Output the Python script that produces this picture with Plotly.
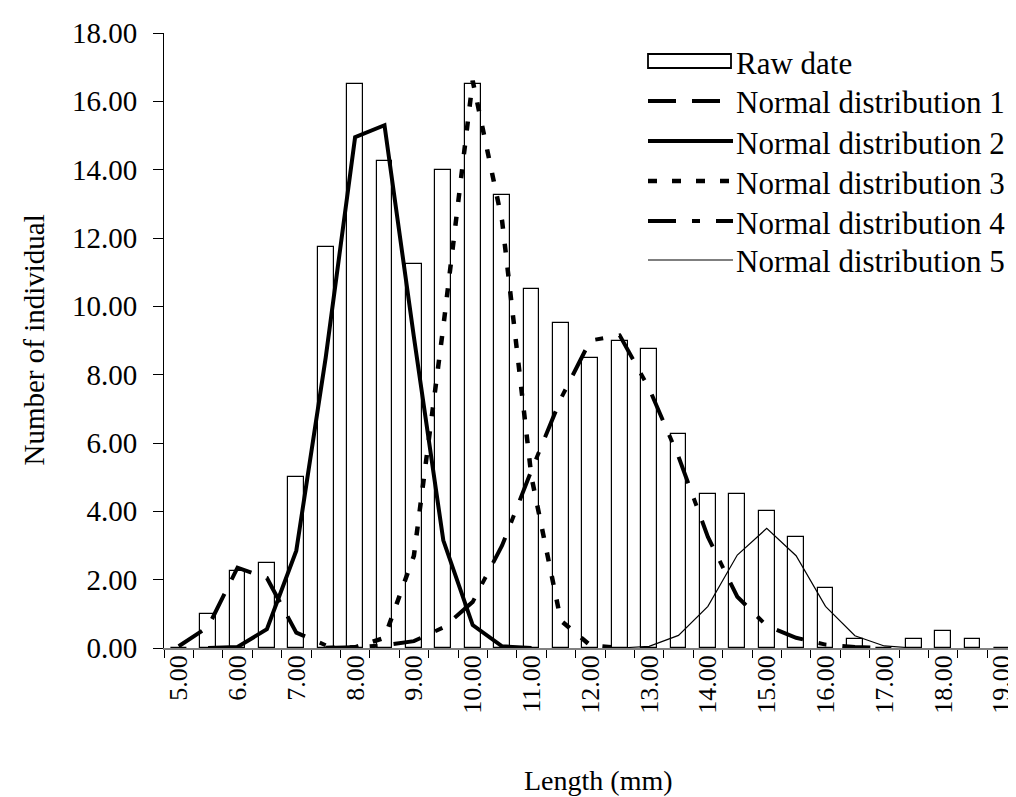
import plotly.graph_objects as go

# ---- data ----
lengths = [5.0, 5.5, 6.0, 6.5, 7.0, 7.5, 8.0, 8.5, 9.0, 9.5, 10.0, 10.5, 11.0, 11.5,
           12.0, 12.5, 13.0, 13.5, 14.0, 14.5, 15.0, 15.5, 16.0, 16.5, 17.0, 17.5,
           18.0, 18.5, 19.0]
tick_vals = [5, 6, 7, 8, 9, 10, 11, 12, 13, 14, 15, 16, 17, 18, 19]
tick_text = ["%.2f" % v for v in tick_vals]

raw_date = [0, 1.0, 2.25, 2.5, 5.0, 11.75, 16.5, 14.25, 11.25, 14.0, 16.5, 13.25, 10.5, 9.5,
            8.5, 9.0, 8.75, 6.25, 4.5, 4.5, 4.0, 3.25, 1.75, 0.25, 0, 0.25,
            0.5, 0.25, 0]

N = None
nd1 = [0.05, 0.62, 2.35, 2.05, 0.45, 0.08, N, N, N, N, N, N, N, N,
       N, N, N, N, N, N, N, N, N, N, N, N, N, N, N]
nd2 = [N, 0.0, 0.03, 0.55, 2.85, 8.5, 14.95, 15.3, 9.1, 3.15, 0.67, 0.05, 0.0, N,
       N, N, N, N, N, N, N, N, N, N, N, N, N, N, N]
nd3 = [N, N, N, N, N, 0.0, 0.02, 0.3, 2.7, 9.4, 16.6, 12.5, 5.0, 0.8,
       0.08, 0.0, N, N, N, N, N, N, N, N, N, N, N, N, N]
nd4 = [N, N, N, N, N, 0.0, 0.02, 0.08, 0.2, 0.6, 1.35, 3.0, 5.2, 7.3,
       9.0, 9.15, 7.6, 5.6, 3.25, 1.5, 0.65, 0.3, 0.1, 0.03, 0.0, N, N, N, N]
nd5 = [N, N, N, N, N, N, N, N, N, N, N, N, N, N,
       N, 0.0, 0.05, 0.37, 1.22, 2.72, 3.5, 2.7, 1.22, 0.36, 0.06, 0.0, N, N, N]

series_names = ["Raw date", "Normal distribution 1", "Normal distribution 2",
                "Normal distribution 3", "Normal distribution 4", "Normal distribution 5"]
x_title = "Length (mm)"
y_title = "Number of individual"

FONT = "Liberation Serif, Times New Roman, serif"

styles = [
    dict(width=4, dash="28px,16px"),
    dict(width=4, dash="solid"),
    dict(width=4.5, dash="9px,15px"),
    dict(width=4, dash="28px,16px,8px,16px"),
    dict(width=1.2, dash="solid"),
]
series = [nd1, nd2, nd3, nd4, nd5]

fig = go.Figure()
fig.add_trace(go.Bar(
    x=lengths, y=raw_date, width=0.27, name=series_names[0],
    marker=dict(color="white", line=dict(color="black", width=1.2)),
    showlegend=False,
))
for name, ys, st in zip(series_names[1:], series, styles):
    fig.add_trace(go.Scatter(
        x=lengths, y=ys, mode="lines", name=name, connectgaps=False,
        line=dict(color="black", width=st["width"], dash=st["dash"]),
        showlegend=False,
    ))

# plot-area geometry (pixels) used for the drawn legend and titles
L, R, T, B = 156, 1016, 25, 640
W, H = R - L, B - T
CAT_PX = 29.4  # pixels per 0.5 mm category

def px(x):
    return (x - L) / W

def py(y):
    return (B - y) / H

shapes = []
annotations = []
row_y = [53, 93, 133, 173, 213, 252]
x0, x1 = 640, 725
shapes.append(dict(type="rect", xref="paper", yref="paper",
                   x0=px(x0), x1=px(x1 - 2), y0=py(row_y[0] - 7), y1=py(row_y[0] + 7),
                   line=dict(color="black", width=1.8), fillcolor="white"))
for yy, st in zip(row_y[1:], styles):
    shapes.append(dict(type="line", xref="paper", yref="paper",
                       x0=px(x0), x1=px(x1), y0=py(yy), y1=py(yy),
                       line=dict(color="black", width=st["width"], dash=st["dash"])))
for yy, name in zip(row_y, series_names):
    annotations.append(dict(xref="paper", yref="paper", x=px(726), y=py(yy + 2),
                            xanchor="left", yanchor="middle", text=name, showarrow=False,
                            font=dict(family=FONT, size=31, color="black")))

# axis titles
annotations.append(dict(xref="paper", yref="paper", x=px(590), y=py(772),
                        xanchor="center", yanchor="middle", text=x_title, showarrow=False,
                        font=dict(family=FONT, size=28, color="black")))
annotations.append(dict(xref="paper", yref="paper", x=px(25), y=0.5, textangle=-90,
                        xanchor="center", yanchor="middle", text=y_title, showarrow=False,
                        font=dict(family=FONT, size=29, color="black")))

fig.update_layout(
    width=1016, height=797,
    margin=dict(l=L, r=1016 - R, t=T, b=797 - B, autoexpand=False),
    paper_bgcolor="white", plot_bgcolor="white",
    showlegend=False, bargap=0,
    font=dict(family=FONT, size=26, color="black"),
    shapes=shapes, annotations=annotations,
)
fig.update_xaxes(
    range=[4.75, 4.75 + 0.5 * W / CAT_PX],
    tickmode="array", tickvals=tick_vals, ticktext=tick_text, tickangle=-90,
    ticks="", ticklen=0, ticklabelstandoff=-5, showgrid=False, zeroline=False,
    showline=True, linecolor="#808080", linewidth=1.5,
    minor=dict(tickmode="linear", tick0=4.75, dtick=0.5, ticks="outside",
               ticklen=8, tickcolor="black", tickwidth=1, showgrid=False),
    tickfont=dict(family=FONT, size=26),
    automargin=False,
)
fig.update_yaxes(
    range=[0, 18], tickmode="linear", tick0=0, dtick=2, tickformat=".2f",
    ticks="outside", ticklen=10, tickcolor="black", tickwidth=1,
    ticklabelstandoff=10,
    showgrid=False, zeroline=False, showline=True, linecolor="black", linewidth=1,
    tickfont=dict(family=FONT, size=29),
    automargin=False,
)

fig.write_html("out.html")
